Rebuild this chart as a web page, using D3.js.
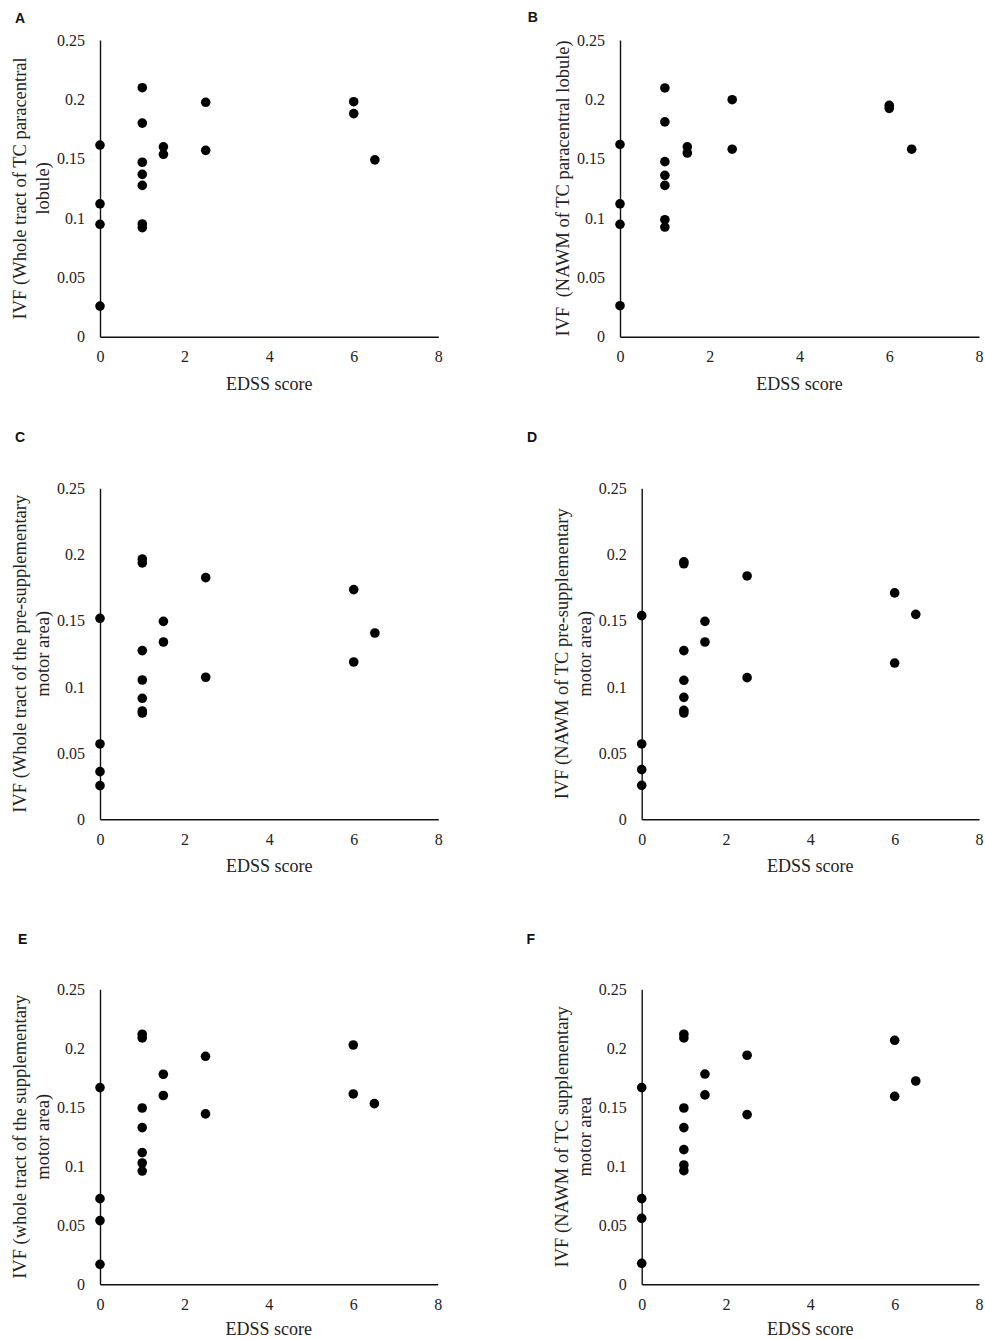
<!DOCTYPE html>
<html>
<head>
<meta charset="utf-8">
<script src="https://cdn.jsdelivr.net/npm/d3@7"></script>
<style>
  html, body { margin: 0; padding: 0; background: #fff; }
  svg { display: block; }
</style>
</head>
<body>
<svg id="chart" width="985" height="1339"></svg>
<script>
// ---- Data ----
const xTicks = [0, 2, 4, 6, 8];
const yTicks = [0, 0.05, 0.1, 0.15, 0.2, 0.25];
const yTickLabels = ["0", "0.05", "0.1", "0.15", "0.2", "0.25"];
const xTitle = "EDSS score";

const edss = [0, 0, 0, 0, 1, 1, 1, 1, 1, 1, 1, 1.5, 1.5, 2.5, 2.5, 6, 6, 6.5];

const ivfA = [0.1615, 0.112, 0.0947, 0.0258, 0.2098, 0.180, 0.147, 0.1368, 0.1275, 0.095, 0.0919, 0.160, 0.1537, 0.1975, 0.157, 0.198, 0.188, 0.149];
const ivfB = [0.162, 0.112, 0.0947, 0.0261, 0.2096, 0.181, 0.1475, 0.136, 0.1275, 0.0986, 0.0924, 0.160, 0.1548, 0.1997, 0.158, 0.195, 0.1924, 0.158];
const ivfC = [0.1518, 0.0569, 0.036, 0.0254, 0.1966, 0.1936, 0.1274, 0.1052, 0.0914, 0.0818, 0.0803, 0.1495, 0.1339, 0.1825, 0.1073, 0.1735, 0.1188, 0.1407];
const ivfD = [0.1538, 0.0569, 0.0375, 0.0257, 0.1945, 0.1930, 0.1274, 0.105, 0.0921, 0.0823, 0.0803, 0.1495, 0.1339, 0.1838, 0.107, 0.171, 0.118, 0.1548];
const ivfE = [0.1667, 0.0726, 0.054, 0.0169, 0.2119, 0.2088, 0.1494, 0.1328, 0.1116, 0.1028, 0.096, 0.178, 0.160, 0.1932, 0.1444, 0.2028, 0.1613, 0.1531];
const ivfF = [0.1667, 0.0726, 0.0559, 0.0178, 0.2119, 0.2088, 0.1494, 0.1328, 0.1141, 0.1011, 0.0963, 0.1782, 0.1605, 0.1941, 0.1438, 0.2068, 0.1593, 0.1723];

const panelLetters = ["A", "B", "C", "D", "E", "F"];
const yTitles = [
  ["IVF (Whole tract of TC paracentral", "lobule)"],
  ["IVF\u00a0 (NAWM of TC paracentral lobule)"],
  ["IVF (Whole tract of the pre-supplementary", "motor area)"],
  ["IVF (NAWM of TC pre-supplementary", "motor area)"],
  ["IVF (whole tract of the supplementary", "motor area)"],
  ["IVF (NAWM of TC supplementary", "motor area"]
];
const series = [ivfA, ivfB, ivfC, ivfD, ivfE, ivfF];

// ---- Layout (positions / sizes) ----
const layout = [
  { x0: 100,   x1: 438.3, yTop: 40,    yBot: 336.7,  lx: 20,    ly: 18,  tx: [19.8, 43.3], xt: 47 },
  { x0: 620,   x1: 979,   yTop: 40,    yBot: 336.7,  lx: 532.7, ly: 17,  tx: [562.7],      xt: 47 },
  { x0: 100,   x1: 438.3, yTop: 488.3, yBot: 819.3,  lx: 20,    ly: 437, tx: [19.8, 43.3], xt: 47 },
  { x0: 641.7, x1: 979,   yTop: 488.3, yBot: 819.3,  lx: 532,   ly: 437, tx: [561.7, 585], xt: 47 },
  { x0: 100,   x1: 437.7, yTop: 989.3, yBot: 1284.3, lx: 22.7,  ly: 939, tx: [19.8, 43.3], xt: 45 },
  { x0: 641.7, x1: 979,   yTop: 989.3, yBot: 1284.3, lx: 530.7, ly: 939, tx: [561.7, 585], xt: 45 }
];

const serif = "'Liberation Serif', 'Times New Roman', serif";
const sans = "'Liberation Sans', Arial, sans-serif";
const svg = d3.select("#chart");

layout.forEach((L, i) => {
  const g = svg.append("g");
  const x = d3.scaleLinear().domain([0, 8]).range([L.x0, L.x1]);
  const y = d3.scaleLinear().domain([0, 0.25]).range([L.yBot, L.yTop]);

  // panel letter
  g.append("text")
    .attr("x", L.lx).attr("y", L.ly)
    .attr("text-anchor", "middle").attr("dominant-baseline", "central")
    .attr("font-family", sans).attr("font-weight", "bold").attr("font-size", 14)
    .attr("fill", "#111")
    .text(panelLetters[i]);

  // y axis
  const ya = g.append("g")
    .attr("transform", `translate(${L.x0},0)`)
    .call(d3.axisLeft(y).tickValues(yTicks).tickSize(0).tickSizeOuter(0).tickPadding(15)
      .tickFormat((d, k) => yTickLabels[k]));
  // x axis
  const xa = g.append("g")
    .attr("transform", `translate(0,${L.yBot})`)
    .call(d3.axisBottom(x).tickValues(xTicks).tickSize(0).tickSizeOuter(0).tickPadding(14)
      .tickFormat(d3.format("d")));

  [ya, xa].forEach(a => {
    a.select(".domain").attr("stroke", "#111").attr("stroke-width", 1.4);
    a.selectAll("text").attr("font-family", serif).attr("font-size", 16).attr("fill", "#222");
  });

  // x title
  g.append("text")
    .attr("x", (L.x0 + L.x1) / 2).attr("y", L.yBot + L.xt)
    .attr("text-anchor", "middle").attr("dominant-baseline", "central")
    .attr("font-family", serif).attr("font-size", 18).attr("fill", "#222")
    .text(xTitle);

  // y title
  const cy = (L.yTop + L.yBot) / 2;
  yTitles[i].forEach((line, k) => {
    g.append("text")
      .attr("transform", `translate(${L.tx[k]},${cy}) rotate(-90)`)
      .attr("text-anchor", "middle").attr("dominant-baseline", "central")
      .attr("font-family", serif).attr("font-size", 18.5).attr("fill", "#222")
      .text(line);
  });

  // points
  g.selectAll("circle.pt")
    .data(series[i].map((v, k) => ({ x: edss[k], y: v })))
    .join("circle")
    .attr("class", "pt")
    .attr("cx", d => x(d.x))
    .attr("cy", d => y(d.y))
    .attr("r", 4.8)
    .attr("fill", "#000");
});
</script>
</body>
</html>
